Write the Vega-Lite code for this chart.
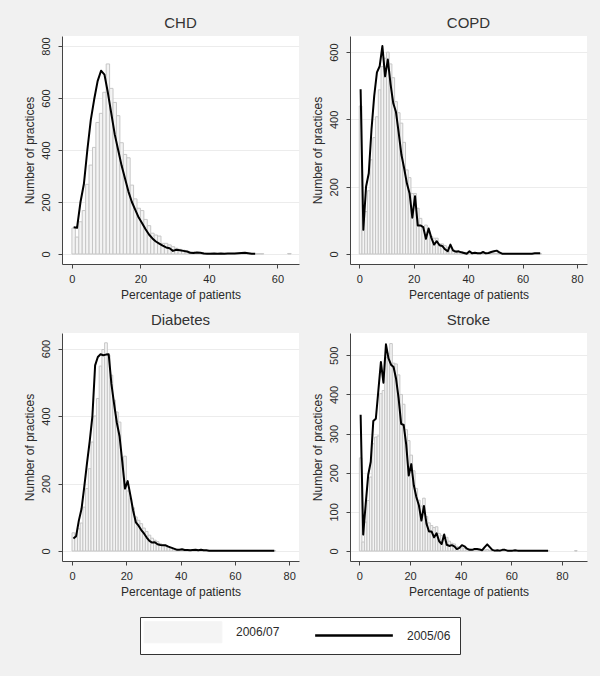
{
  "$schema": "https://vega.github.io/schema/vega-lite/v6.json",
  "background": "#f1f1f1",
  "padding": {"left": 22, "top": 16, "right": 14, "bottom": 21},
  "autosize": {"type": "pad"},
  "config": {
    "font": "Liberation Sans",
    "view": {"fill": "#ffffff", "stroke": null},
    "title": {"font": "Liberation Sans", "fontSize": 15, "fontWeight": 400, "color": "#333333", "baseline": "alphabetic", "offset": 5, "anchor": "middle", "frame": "group"},
    "style": {"group-title": {"font": "Liberation Sans", "fontSize": 15, "fontWeight": 400, "fill": "#333333"}},
    "axis": {"domainColor": "#444444", "tickColor": "#444444", "tickSize": 4, "labelFont": "Liberation Sans", "labelFontSize": 11, "labelColor": "#2a2a2a", "titleFont": "Liberation Sans", "titleFontSize": 12, "titleFontWeight": "normal", "titleColor": "#2a2a2a", "grid": false},
    "axisX": {"labelPadding": 5, "titlePadding": 5, "labelFlush": false},
    "axisY": {"grid": true, "gridColor": "#ececec", "labelAngle": 270, "labelAlign": "center", "labelBaseline": "bottom", "labelPadding": 7, "titlePadding": 4},
    "legend": {"orient": "none", "legendX": 78, "legendY": 581, "direction": "horizontal", "title": null, "strokeColor": "#333333", "fillColor": "#ffffff", "padding": 9, "symbolSize": 441, "symbolOffset": 28, "labelOffset": 47, "columnPadding": 30, "labelFont": "Liberation Sans", "labelFontSize": 12, "labelColor": "#2a2a2a", "symbolStrokeWidth": 1}
  },
  "datasets": {
    "bars": [
      {"d":"CHD","lo":0,"hi":1,"n":100},{"d":"CHD","lo":1,"hi":2,"n":65},{"d":"CHD","lo":2,"hi":3,"n":124},{"d":"CHD","lo":3,"hi":4,"n":167},{"d":"CHD","lo":4,"hi":5,"n":268},{"d":"CHD","lo":5,"hi":6,"n":342},{"d":"CHD","lo":6,"hi":7,"n":410},{"d":"CHD","lo":7,"hi":8,"n":506},{"d":"CHD","lo":8,"hi":9,"n":541},{"d":"CHD","lo":9,"hi":10,"n":622},{"d":"CHD","lo":10,"hi":11,"n":731},{"d":"CHD","lo":11,"hi":12,"n":637},{"d":"CHD","lo":12,"hi":13,"n":583},{"d":"CHD","lo":13,"hi":14,"n":532},{"d":"CHD","lo":14,"hi":15,"n":428},{"d":"CHD","lo":15,"hi":16,"n":383},{"d":"CHD","lo":16,"hi":17,"n":370},{"d":"CHD","lo":17,"hi":18,"n":265},{"d":"CHD","lo":18,"hi":19,"n":212},{"d":"CHD","lo":19,"hi":20,"n":176},{"d":"CHD","lo":20,"hi":21,"n":167},{"d":"CHD","lo":21,"hi":22,"n":133},{"d":"CHD","lo":22,"hi":23,"n":109},{"d":"CHD","lo":23,"hi":24,"n":80},{"d":"CHD","lo":24,"hi":25,"n":73},{"d":"CHD","lo":25,"hi":26,"n":69},{"d":"CHD","lo":26,"hi":27,"n":41},{"d":"CHD","lo":27,"hi":28,"n":41},{"d":"CHD","lo":28,"hi":29,"n":35},{"d":"CHD","lo":29,"hi":30,"n":28},{"d":"CHD","lo":30,"hi":31,"n":22},{"d":"CHD","lo":31,"hi":32,"n":18},{"d":"CHD","lo":32,"hi":33,"n":15},{"d":"CHD","lo":33,"hi":34,"n":13},{"d":"CHD","lo":34,"hi":35,"n":9},{"d":"CHD","lo":35,"hi":36,"n":8},{"d":"CHD","lo":36,"hi":37,"n":6},{"d":"CHD","lo":37,"hi":38,"n":5},{"d":"CHD","lo":38,"hi":39,"n":4},{"d":"CHD","lo":39,"hi":40,"n":3},{"d":"CHD","lo":40,"hi":41,"n":3},{"d":"CHD","lo":41,"hi":42,"n":2},{"d":"CHD","lo":42,"hi":43,"n":2},{"d":"CHD","lo":43,"hi":44,"n":2},{"d":"CHD","lo":44,"hi":45,"n":2},{"d":"CHD","lo":45,"hi":46,"n":1},{"d":"CHD","lo":46,"hi":47,"n":1},{"d":"CHD","lo":47,"hi":48,"n":1},{"d":"CHD","lo":48,"hi":49,"n":1},{"d":"CHD","lo":49,"hi":50,"n":1},{"d":"CHD","lo":50,"hi":51,"n":2},{"d":"CHD","lo":51,"hi":52,"n":1},{"d":"CHD","lo":52,"hi":53,"n":1},{"d":"CHD","lo":53,"hi":54,"n":1},{"d":"CHD","lo":54,"hi":55,"n":1},{"d":"CHD","lo":55,"hi":56,"n":1},{"d":"CHD","lo":63,"hi":64,"n":2},
      {"d":"COPD","lo":0,"hi":1,"n":440},{"d":"COPD","lo":1,"hi":2,"n":71},{"d":"COPD","lo":2,"hi":3,"n":126},{"d":"COPD","lo":3,"hi":4,"n":188},{"d":"COPD","lo":4,"hi":5,"n":280},{"d":"COPD","lo":5,"hi":6,"n":346},{"d":"COPD","lo":6,"hi":7,"n":408},{"d":"COPD","lo":7,"hi":8,"n":488},{"d":"COPD","lo":8,"hi":9,"n":557},{"d":"COPD","lo":9,"hi":10,"n":582},{"d":"COPD","lo":10,"hi":11,"n":600},{"d":"COPD","lo":11,"hi":12,"n":565},{"d":"COPD","lo":12,"hi":13,"n":524},{"d":"COPD","lo":13,"hi":14,"n":453},{"d":"COPD","lo":14,"hi":15,"n":420},{"d":"COPD","lo":15,"hi":16,"n":389},{"d":"COPD","lo":16,"hi":17,"n":332},{"d":"COPD","lo":17,"hi":18,"n":250},{"d":"COPD","lo":18,"hi":19,"n":227},{"d":"COPD","lo":19,"hi":20,"n":180},{"d":"COPD","lo":20,"hi":21,"n":180},{"d":"COPD","lo":21,"hi":22,"n":136},{"d":"COPD","lo":22,"hi":23,"n":106},{"d":"COPD","lo":23,"hi":24,"n":81},{"d":"COPD","lo":24,"hi":25,"n":86},{"d":"COPD","lo":25,"hi":26,"n":66},{"d":"COPD","lo":26,"hi":27,"n":52},{"d":"COPD","lo":27,"hi":28,"n":47},{"d":"COPD","lo":28,"hi":29,"n":47},{"d":"COPD","lo":29,"hi":30,"n":30},{"d":"COPD","lo":30,"hi":31,"n":30},{"d":"COPD","lo":31,"hi":32,"n":25},{"d":"COPD","lo":32,"hi":33,"n":20},{"d":"COPD","lo":33,"hi":34,"n":17},{"d":"COPD","lo":34,"hi":35,"n":13},{"d":"COPD","lo":35,"hi":36,"n":10},{"d":"COPD","lo":36,"hi":37,"n":8},{"d":"COPD","lo":37,"hi":38,"n":7},{"d":"COPD","lo":38,"hi":39,"n":5},{"d":"COPD","lo":39,"hi":40,"n":4},{"d":"COPD","lo":40,"hi":41,"n":4},{"d":"COPD","lo":41,"hi":42,"n":3},{"d":"COPD","lo":42,"hi":43,"n":3},{"d":"COPD","lo":43,"hi":44,"n":2},{"d":"COPD","lo":44,"hi":45,"n":2},{"d":"COPD","lo":45,"hi":46,"n":2},{"d":"COPD","lo":46,"hi":47,"n":2},{"d":"COPD","lo":47,"hi":48,"n":2},{"d":"COPD","lo":48,"hi":49,"n":2},{"d":"COPD","lo":49,"hi":50,"n":2},{"d":"COPD","lo":50,"hi":51,"n":2},{"d":"COPD","lo":51,"hi":52,"n":1},{"d":"COPD","lo":52,"hi":53,"n":1},{"d":"COPD","lo":53,"hi":54,"n":1},{"d":"COPD","lo":54,"hi":55,"n":1},{"d":"COPD","lo":55,"hi":56,"n":1},{"d":"COPD","lo":56,"hi":57,"n":1},{"d":"COPD","lo":57,"hi":58,"n":1},{"d":"COPD","lo":58,"hi":59,"n":1},{"d":"COPD","lo":59,"hi":60,"n":1},{"d":"COPD","lo":60,"hi":61,"n":1},{"d":"COPD","lo":61,"hi":62,"n":1},{"d":"COPD","lo":62,"hi":63,"n":1},{"d":"COPD","lo":63,"hi":64,"n":1},{"d":"COPD","lo":64,"hi":65,"n":1},{"d":"COPD","lo":65,"hi":66,"n":1},{"d":"COPD","lo":66,"hi":67,"n":1},
      {"d":"Diabetes","lo":0,"hi":1,"n":54},{"d":"Diabetes","lo":1,"hi":2,"n":42},{"d":"Diabetes","lo":2,"hi":3,"n":66},{"d":"Diabetes","lo":3,"hi":4,"n":83},{"d":"Diabetes","lo":4,"hi":5,"n":130},{"d":"Diabetes","lo":5,"hi":6,"n":185},{"d":"Diabetes","lo":6,"hi":7,"n":244},{"d":"Diabetes","lo":7,"hi":8,"n":323},{"d":"Diabetes","lo":8,"hi":9,"n":400},{"d":"Diabetes","lo":9,"hi":10,"n":452},{"d":"Diabetes","lo":10,"hi":11,"n":548},{"d":"Diabetes","lo":11,"hi":12,"n":597},{"d":"Diabetes","lo":12,"hi":13,"n":617},{"d":"Diabetes","lo":13,"hi":14,"n":580},{"d":"Diabetes","lo":14,"hi":15,"n":521},{"d":"Diabetes","lo":15,"hi":16,"n":447},{"d":"Diabetes","lo":16,"hi":17,"n":412},{"d":"Diabetes","lo":17,"hi":18,"n":382},{"d":"Diabetes","lo":18,"hi":19,"n":277},{"d":"Diabetes","lo":19,"hi":20,"n":281},{"d":"Diabetes","lo":20,"hi":21,"n":178},{"d":"Diabetes","lo":21,"hi":22,"n":155},{"d":"Diabetes","lo":22,"hi":23,"n":128},{"d":"Diabetes","lo":23,"hi":24,"n":101},{"d":"Diabetes","lo":24,"hi":25,"n":91},{"d":"Diabetes","lo":25,"hi":26,"n":81},{"d":"Diabetes","lo":26,"hi":27,"n":68},{"d":"Diabetes","lo":27,"hi":28,"n":58},{"d":"Diabetes","lo":28,"hi":29,"n":47},{"d":"Diabetes","lo":29,"hi":30,"n":38},{"d":"Diabetes","lo":30,"hi":31,"n":32},{"d":"Diabetes","lo":31,"hi":32,"n":28},{"d":"Diabetes","lo":32,"hi":33,"n":22},{"d":"Diabetes","lo":33,"hi":34,"n":18},{"d":"Diabetes","lo":34,"hi":35,"n":14},{"d":"Diabetes","lo":35,"hi":36,"n":12},{"d":"Diabetes","lo":36,"hi":37,"n":10},{"d":"Diabetes","lo":37,"hi":38,"n":7},{"d":"Diabetes","lo":38,"hi":39,"n":5},{"d":"Diabetes","lo":39,"hi":40,"n":4},{"d":"Diabetes","lo":40,"hi":41,"n":3},{"d":"Diabetes","lo":41,"hi":42,"n":2},{"d":"Diabetes","lo":42,"hi":43,"n":2},{"d":"Diabetes","lo":43,"hi":44,"n":2},{"d":"Diabetes","lo":44,"hi":45,"n":2},{"d":"Diabetes","lo":45,"hi":46,"n":2},{"d":"Diabetes","lo":46,"hi":47,"n":2},{"d":"Diabetes","lo":47,"hi":48,"n":2},{"d":"Diabetes","lo":48,"hi":49,"n":2},{"d":"Diabetes","lo":49,"hi":50,"n":2},{"d":"Diabetes","lo":50,"hi":51,"n":1},{"d":"Diabetes","lo":51,"hi":52,"n":1},{"d":"Diabetes","lo":52,"hi":53,"n":1},{"d":"Diabetes","lo":53,"hi":54,"n":1},{"d":"Diabetes","lo":54,"hi":55,"n":1},{"d":"Diabetes","lo":55,"hi":56,"n":1},{"d":"Diabetes","lo":56,"hi":57,"n":1},{"d":"Diabetes","lo":57,"hi":58,"n":1},{"d":"Diabetes","lo":58,"hi":59,"n":1},{"d":"Diabetes","lo":59,"hi":60,"n":1},{"d":"Diabetes","lo":60,"hi":61,"n":1},{"d":"Diabetes","lo":61,"hi":62,"n":1},{"d":"Diabetes","lo":62,"hi":63,"n":1},{"d":"Diabetes","lo":63,"hi":64,"n":1},{"d":"Diabetes","lo":64,"hi":65,"n":1},{"d":"Diabetes","lo":65,"hi":66,"n":1},{"d":"Diabetes","lo":66,"hi":67,"n":1},{"d":"Diabetes","lo":67,"hi":68,"n":1},{"d":"Diabetes","lo":68,"hi":69,"n":1},{"d":"Diabetes","lo":69,"hi":70,"n":1},{"d":"Diabetes","lo":70,"hi":71,"n":1},{"d":"Diabetes","lo":71,"hi":72,"n":1},{"d":"Diabetes","lo":72,"hi":73,"n":1},{"d":"Diabetes","lo":73,"hi":74,"n":1},{"d":"Diabetes","lo":74,"hi":75,"n":1},
      {"d":"Stroke","lo":0,"hi":1,"n":238},{"d":"Stroke","lo":1,"hi":2,"n":23},{"d":"Stroke","lo":2,"hi":3,"n":74},{"d":"Stroke","lo":3,"hi":4,"n":129},{"d":"Stroke","lo":4,"hi":5,"n":189},{"d":"Stroke","lo":5,"hi":6,"n":274},{"d":"Stroke","lo":6,"hi":7,"n":291},{"d":"Stroke","lo":7,"hi":8,"n":294},{"d":"Stroke","lo":8,"hi":9,"n":402},{"d":"Stroke","lo":9,"hi":10,"n":410},{"d":"Stroke","lo":10,"hi":11,"n":495},{"d":"Stroke","lo":11,"hi":12,"n":505},{"d":"Stroke","lo":12,"hi":13,"n":530},{"d":"Stroke","lo":13,"hi":14,"n":480},{"d":"Stroke","lo":14,"hi":15,"n":478},{"d":"Stroke","lo":15,"hi":16,"n":450},{"d":"Stroke","lo":16,"hi":17,"n":400},{"d":"Stroke","lo":17,"hi":18,"n":375},{"d":"Stroke","lo":18,"hi":19,"n":310},{"d":"Stroke","lo":19,"hi":20,"n":282},{"d":"Stroke","lo":20,"hi":21,"n":245},{"d":"Stroke","lo":21,"hi":22,"n":205},{"d":"Stroke","lo":22,"hi":23,"n":160},{"d":"Stroke","lo":23,"hi":24,"n":130},{"d":"Stroke","lo":24,"hi":25,"n":115},{"d":"Stroke","lo":25,"hi":26,"n":135},{"d":"Stroke","lo":26,"hi":27,"n":88},{"d":"Stroke","lo":27,"hi":28,"n":72},{"d":"Stroke","lo":28,"hi":29,"n":65},{"d":"Stroke","lo":29,"hi":30,"n":60},{"d":"Stroke","lo":30,"hi":31,"n":62},{"d":"Stroke","lo":31,"hi":32,"n":45},{"d":"Stroke","lo":32,"hi":33,"n":40},{"d":"Stroke","lo":33,"hi":34,"n":32},{"d":"Stroke","lo":34,"hi":35,"n":35},{"d":"Stroke","lo":35,"hi":36,"n":25},{"d":"Stroke","lo":36,"hi":37,"n":20},{"d":"Stroke","lo":37,"hi":38,"n":18},{"d":"Stroke","lo":38,"hi":39,"n":12},{"d":"Stroke","lo":39,"hi":40,"n":10},{"d":"Stroke","lo":40,"hi":41,"n":8},{"d":"Stroke","lo":41,"hi":42,"n":7},{"d":"Stroke","lo":42,"hi":43,"n":6},{"d":"Stroke","lo":43,"hi":44,"n":5},{"d":"Stroke","lo":44,"hi":45,"n":4},{"d":"Stroke","lo":45,"hi":46,"n":4},{"d":"Stroke","lo":46,"hi":47,"n":3},{"d":"Stroke","lo":47,"hi":48,"n":3},{"d":"Stroke","lo":48,"hi":49,"n":2},{"d":"Stroke","lo":49,"hi":50,"n":3},{"d":"Stroke","lo":50,"hi":51,"n":4},{"d":"Stroke","lo":51,"hi":52,"n":2},{"d":"Stroke","lo":52,"hi":53,"n":1},{"d":"Stroke","lo":53,"hi":54,"n":1},{"d":"Stroke","lo":54,"hi":55,"n":1},{"d":"Stroke","lo":55,"hi":56,"n":1},{"d":"Stroke","lo":56,"hi":57,"n":1},{"d":"Stroke","lo":57,"hi":58,"n":1},{"d":"Stroke","lo":58,"hi":59,"n":1},{"d":"Stroke","lo":59,"hi":60,"n":1},{"d":"Stroke","lo":60,"hi":61,"n":1},{"d":"Stroke","lo":61,"hi":62,"n":1},{"d":"Stroke","lo":62,"hi":63,"n":1},{"d":"Stroke","lo":63,"hi":64,"n":1},{"d":"Stroke","lo":64,"hi":65,"n":1},{"d":"Stroke","lo":65,"hi":66,"n":1},{"d":"Stroke","lo":66,"hi":67,"n":1},{"d":"Stroke","lo":67,"hi":68,"n":1},{"d":"Stroke","lo":68,"hi":69,"n":1},{"d":"Stroke","lo":69,"hi":70,"n":1},{"d":"Stroke","lo":70,"hi":71,"n":1},{"d":"Stroke","lo":71,"hi":72,"n":1},{"d":"Stroke","lo":72,"hi":73,"n":1},{"d":"Stroke","lo":73,"hi":74,"n":1},{"d":"Stroke","lo":74,"hi":75,"n":1},{"d":"Stroke","lo":85,"hi":86,"n":1}
    ],
    "line": [
      {"d":"CHD","p":0.5,"n":103},{"d":"CHD","p":1.5,"n":101},{"d":"CHD","p":2.5,"n":200},{"d":"CHD","p":3.5,"n":270},{"d":"CHD","p":4.5,"n":400},{"d":"CHD","p":5.5,"n":515},{"d":"CHD","p":6.5,"n":595},{"d":"CHD","p":7.5,"n":665},{"d":"CHD","p":8.5,"n":705},{"d":"CHD","p":9.5,"n":690},{"d":"CHD","p":10.5,"n":620},{"d":"CHD","p":11.5,"n":540},{"d":"CHD","p":12.5,"n":460},{"d":"CHD","p":13.5,"n":400},{"d":"CHD","p":14.5,"n":340},{"d":"CHD","p":15.5,"n":290},{"d":"CHD","p":16.5,"n":240},{"d":"CHD","p":17.5,"n":200},{"d":"CHD","p":18.5,"n":170},{"d":"CHD","p":19.5,"n":140},{"d":"CHD","p":20.5,"n":118},{"d":"CHD","p":21.5,"n":95},{"d":"CHD","p":22.5,"n":75},{"d":"CHD","p":23.5,"n":60},{"d":"CHD","p":24.5,"n":48},{"d":"CHD","p":25.5,"n":40},{"d":"CHD","p":26.5,"n":32},{"d":"CHD","p":27.5,"n":25},{"d":"CHD","p":28.5,"n":22},{"d":"CHD","p":29.5,"n":12},{"d":"CHD","p":30.5,"n":16},{"d":"CHD","p":31.5,"n":14},{"d":"CHD","p":32.5,"n":12},{"d":"CHD","p":33.5,"n":10},{"d":"CHD","p":34.5,"n":5},{"d":"CHD","p":35.5,"n":4},{"d":"CHD","p":36.5,"n":6},{"d":"CHD","p":37.5,"n":5},{"d":"CHD","p":38.5,"n":2},{"d":"CHD","p":39.5,"n":1},{"d":"CHD","p":40.5,"n":1},{"d":"CHD","p":41.5,"n":2},{"d":"CHD","p":42.5,"n":1},{"d":"CHD","p":43.5,"n":2},{"d":"CHD","p":44.5,"n":1},{"d":"CHD","p":45.5,"n":2},{"d":"CHD","p":46.5,"n":2},{"d":"CHD","p":47.5,"n":2},{"d":"CHD","p":48.5,"n":3},{"d":"CHD","p":49.5,"n":4},{"d":"CHD","p":50.5,"n":5},{"d":"CHD","p":51.5,"n":3},{"d":"CHD","p":52.5,"n":1},{"d":"CHD","p":53.5,"n":1},
      {"d":"COPD","p":0.5,"n":490},{"d":"COPD","p":1.5,"n":72},{"d":"COPD","p":2.5,"n":200},{"d":"COPD","p":3.5,"n":240},{"d":"COPD","p":4.5,"n":370},{"d":"COPD","p":5.5,"n":470},{"d":"COPD","p":6.5,"n":540},{"d":"COPD","p":7.5,"n":558},{"d":"COPD","p":8.5,"n":618},{"d":"COPD","p":9.5,"n":528},{"d":"COPD","p":10.5,"n":578},{"d":"COPD","p":11.5,"n":505},{"d":"COPD","p":12.5,"n":448},{"d":"COPD","p":13.5,"n":422},{"d":"COPD","p":14.5,"n":360},{"d":"COPD","p":15.5,"n":295},{"d":"COPD","p":16.5,"n":255},{"d":"COPD","p":17.5,"n":210},{"d":"COPD","p":18.5,"n":180},{"d":"COPD","p":19.5,"n":108},{"d":"COPD","p":20.5,"n":172},{"d":"COPD","p":21.5,"n":85},{"d":"COPD","p":22.5,"n":85},{"d":"COPD","p":23.5,"n":80},{"d":"COPD","p":24.5,"n":45},{"d":"COPD","p":25.5,"n":76},{"d":"COPD","p":26.5,"n":48},{"d":"COPD","p":27.5,"n":28},{"d":"COPD","p":28.5,"n":38},{"d":"COPD","p":29.5,"n":26},{"d":"COPD","p":30.5,"n":24},{"d":"COPD","p":31.5,"n":14},{"d":"COPD","p":32.5,"n":8},{"d":"COPD","p":33.5,"n":28},{"d":"COPD","p":34.5,"n":10},{"d":"COPD","p":35.5,"n":7},{"d":"COPD","p":36.5,"n":8},{"d":"COPD","p":37.5,"n":5},{"d":"COPD","p":38.5,"n":3},{"d":"COPD","p":39.5,"n":1},{"d":"COPD","p":40.5,"n":8},{"d":"COPD","p":41.5,"n":2},{"d":"COPD","p":42.5,"n":4},{"d":"COPD","p":43.5,"n":2},{"d":"COPD","p":44.5,"n":2},{"d":"COPD","p":45.5,"n":6},{"d":"COPD","p":46.5,"n":2},{"d":"COPD","p":47.5,"n":3},{"d":"COPD","p":48.5,"n":6},{"d":"COPD","p":49.5,"n":8},{"d":"COPD","p":50.5,"n":10},{"d":"COPD","p":51.5,"n":5},{"d":"COPD","p":52.5,"n":1},{"d":"COPD","p":53.5,"n":1},{"d":"COPD","p":54.5,"n":1},{"d":"COPD","p":55.5,"n":1},{"d":"COPD","p":56.5,"n":1},{"d":"COPD","p":57.5,"n":1},{"d":"COPD","p":58.5,"n":1},{"d":"COPD","p":59.5,"n":1},{"d":"COPD","p":60.5,"n":1},{"d":"COPD","p":61.5,"n":1},{"d":"COPD","p":62.5,"n":1},{"d":"COPD","p":63.5,"n":1},{"d":"COPD","p":64.5,"n":2},{"d":"COPD","p":65.5,"n":2},{"d":"COPD","p":66.5,"n":2},
      {"d":"Diabetes","p":0.5,"n":37},{"d":"Diabetes","p":1.5,"n":44},{"d":"Diabetes","p":2.5,"n":90},{"d":"Diabetes","p":3.5,"n":125},{"d":"Diabetes","p":4.5,"n":190},{"d":"Diabetes","p":5.5,"n":260},{"d":"Diabetes","p":6.5,"n":325},{"d":"Diabetes","p":7.5,"n":400},{"d":"Diabetes","p":8.5,"n":550},{"d":"Diabetes","p":9.5,"n":575},{"d":"Diabetes","p":10.5,"n":583},{"d":"Diabetes","p":11.5,"n":580},{"d":"Diabetes","p":12.5,"n":582},{"d":"Diabetes","p":13.5,"n":583},{"d":"Diabetes","p":14.5,"n":495},{"d":"Diabetes","p":15.5,"n":435},{"d":"Diabetes","p":16.5,"n":380},{"d":"Diabetes","p":17.5,"n":340},{"d":"Diabetes","p":18.5,"n":265},{"d":"Diabetes","p":19.5,"n":185},{"d":"Diabetes","p":20.5,"n":207},{"d":"Diabetes","p":21.5,"n":165},{"d":"Diabetes","p":22.5,"n":120},{"d":"Diabetes","p":23.5,"n":85},{"d":"Diabetes","p":24.5,"n":75},{"d":"Diabetes","p":25.5,"n":62},{"d":"Diabetes","p":26.5,"n":52},{"d":"Diabetes","p":27.5,"n":40},{"d":"Diabetes","p":28.5,"n":30},{"d":"Diabetes","p":29.5,"n":25},{"d":"Diabetes","p":30.5,"n":26},{"d":"Diabetes","p":31.5,"n":20},{"d":"Diabetes","p":32.5,"n":18},{"d":"Diabetes","p":33.5,"n":17},{"d":"Diabetes","p":34.5,"n":17},{"d":"Diabetes","p":35.5,"n":13},{"d":"Diabetes","p":36.5,"n":10},{"d":"Diabetes","p":37.5,"n":7},{"d":"Diabetes","p":38.5,"n":4},{"d":"Diabetes","p":39.5,"n":4},{"d":"Diabetes","p":40.5,"n":5},{"d":"Diabetes","p":41.5,"n":3},{"d":"Diabetes","p":42.5,"n":3},{"d":"Diabetes","p":43.5,"n":2},{"d":"Diabetes","p":44.5,"n":3},{"d":"Diabetes","p":45.5,"n":4},{"d":"Diabetes","p":46.5,"n":2},{"d":"Diabetes","p":47.5,"n":4},{"d":"Diabetes","p":48.5,"n":2},{"d":"Diabetes","p":49.5,"n":2},{"d":"Diabetes","p":50.5,"n":1},{"d":"Diabetes","p":52.5,"n":1},{"d":"Diabetes","p":54.5,"n":1},{"d":"Diabetes","p":56.5,"n":1},{"d":"Diabetes","p":58.5,"n":1},{"d":"Diabetes","p":60.5,"n":1},{"d":"Diabetes","p":62.5,"n":1},{"d":"Diabetes","p":64.5,"n":1},{"d":"Diabetes","p":66.5,"n":1},{"d":"Diabetes","p":68.5,"n":1},{"d":"Diabetes","p":70.5,"n":1},{"d":"Diabetes","p":72.5,"n":1},{"d":"Diabetes","p":74.5,"n":1},
      {"d":"Stroke","p":0.5,"n":348},{"d":"Stroke","p":1.5,"n":42},{"d":"Stroke","p":2.5,"n":120},{"d":"Stroke","p":3.5,"n":195},{"d":"Stroke","p":4.5,"n":228},{"d":"Stroke","p":5.5,"n":332},{"d":"Stroke","p":6.5,"n":338},{"d":"Stroke","p":7.5,"n":410},{"d":"Stroke","p":8.5,"n":483},{"d":"Stroke","p":9.5,"n":430},{"d":"Stroke","p":10.5,"n":528},{"d":"Stroke","p":11.5,"n":492},{"d":"Stroke","p":12.5,"n":476},{"d":"Stroke","p":13.5,"n":470},{"d":"Stroke","p":14.5,"n":440},{"d":"Stroke","p":15.5,"n":390},{"d":"Stroke","p":16.5,"n":325},{"d":"Stroke","p":17.5,"n":322},{"d":"Stroke","p":18.5,"n":272},{"d":"Stroke","p":19.5,"n":193},{"d":"Stroke","p":20.5,"n":222},{"d":"Stroke","p":21.5,"n":168},{"d":"Stroke","p":22.5,"n":138},{"d":"Stroke","p":23.5,"n":117},{"d":"Stroke","p":24.5,"n":78},{"d":"Stroke","p":25.5,"n":115},{"d":"Stroke","p":26.5,"n":70},{"d":"Stroke","p":27.5,"n":50},{"d":"Stroke","p":28.5,"n":50},{"d":"Stroke","p":29.5,"n":35},{"d":"Stroke","p":30.5,"n":45},{"d":"Stroke","p":31.5,"n":25},{"d":"Stroke","p":32.5,"n":18},{"d":"Stroke","p":33.5,"n":42},{"d":"Stroke","p":34.5,"n":16},{"d":"Stroke","p":35.5,"n":13},{"d":"Stroke","p":36.5,"n":15},{"d":"Stroke","p":37.5,"n":12},{"d":"Stroke","p":38.5,"n":5},{"d":"Stroke","p":39.5,"n":8},{"d":"Stroke","p":40.5,"n":15},{"d":"Stroke","p":41.5,"n":12},{"d":"Stroke","p":42.5,"n":6},{"d":"Stroke","p":43.5,"n":3},{"d":"Stroke","p":44.5,"n":3},{"d":"Stroke","p":45.5,"n":5},{"d":"Stroke","p":46.5,"n":5},{"d":"Stroke","p":47.5,"n":4},{"d":"Stroke","p":48.5,"n":2},{"d":"Stroke","p":49.5,"n":10},{"d":"Stroke","p":50.5,"n":17},{"d":"Stroke","p":51.5,"n":10},{"d":"Stroke","p":52.5,"n":3},{"d":"Stroke","p":53.5,"n":1},{"d":"Stroke","p":54.5,"n":2},{"d":"Stroke","p":55.5,"n":1},{"d":"Stroke","p":56.5,"n":3},{"d":"Stroke","p":57.5,"n":3},{"d":"Stroke","p":58.5,"n":1},{"d":"Stroke","p":59.5,"n":1},{"d":"Stroke","p":60.5,"n":1},{"d":"Stroke","p":61.5,"n":2},{"d":"Stroke","p":62.5,"n":1},{"d":"Stroke","p":64.5,"n":1},{"d":"Stroke","p":66.5,"n":1},{"d":"Stroke","p":68.5,"n":1},{"d":"Stroke","p":70.5,"n":1},{"d":"Stroke","p":72.5,"n":1},{"d":"Stroke","p":74.5,"n":1}
    ]
  },
  "columns": 2,
  "spacing": {"row": 69, "column": 51},
  "bounds": "flush",
  "resolve": {"scale": {"color": "shared"}, "legend": {"color": "shared"}},
  "concat": [
    {
      "title": {"text": "CHD", "fontWeight": 400, "fontSize": 15, "font": "Liberation Sans", "color": "#333333"},
      "width": 237, "height": 228,
      "layer": [
        {"data": {"name": "bars"}, "transform": [{"filter": "datum.d === 'CHD'"}],
         "mark": {"type": "rect", "stroke": "#c6c6c6", "strokeWidth": 1},
         "encoding": {
           "x": {"field": "lo", "type": "quantitative", "scale": {"domain": [-2.9, 66.3], "nice": false, "zero": false}, "axis": {"values": [0, 20, 40, 60]}, "title": "Percentage of patients"},
           "x2": {"field": "hi"},
           "y": {"field": "n", "type": "quantitative", "scale": {"domain": [-38.5, 838.5], "nice": false, "zero": false}, "axis": {"values": [0, 200, 400, 600, 800]}, "title": "Number of practices"},
           "y2": {"datum": 0},
           "color": {"datum": "2006/07", "type": "nominal", "scale": {"domain": ["2006/07", "2005/06"], "range": ["#f4f4f4", "#000000"]},
             "legend": {"encode": {"symbols": {"update": {
               "shape": {"signal": "datum.value === '2005/06' ? 'M-3.7,0H3.7' : 'M-3.7,-1H3.7V1H-3.7Z'"},
               "fill": {"signal": "datum.value === '2005/06' ? 'transparent' : '#f2f2f2'"},
               "stroke": {"signal": "datum.value === '2005/06' ? '#000000' : '#d0d0d0'"},
               "strokeWidth": {"signal": "datum.value === '2005/06' ? 2.5 : 1"}}}}}}
         }},
        {"data": {"name": "line"}, "transform": [{"filter": "datum.d === 'CHD'"}],
         "mark": {"type": "line", "strokeWidth": 2, "strokeJoin": "round"},
         "encoding": {
           "x": {"field": "p", "type": "quantitative"},
           "y": {"field": "n", "type": "quantitative"},
           "color": {"datum": "2005/06", "type": "nominal",
             "legend": {"encode": {"symbols": {"update": {
               "shape": {"signal": "datum.value === '2005/06' ? 'M-3.7,0H3.7' : 'M-3.7,-1H3.7V1H-3.7Z'"},
               "fill": {"signal": "datum.value === '2005/06' ? 'transparent' : '#f2f2f2'"},
               "stroke": {"signal": "datum.value === '2005/06' ? '#000000' : '#d0d0d0'"},
               "strokeWidth": {"signal": "datum.value === '2005/06' ? 2.5 : 1"}}}}}}
         }}
      ]
    },
    {
      "title": {"text": "COPD", "fontWeight": 400, "fontSize": 15, "font": "Liberation Sans", "color": "#333333"},
      "width": 237, "height": 228,
      "layer": [
        {"data": {"name": "bars"}, "transform": [{"filter": "datum.d === 'COPD'"}],
         "mark": {"type": "rect", "stroke": "#c6c6c6", "strokeWidth": 1},
         "encoding": {
           "x": {"field": "lo", "type": "quantitative", "scale": {"domain": [-3.4, 83.7], "nice": false, "zero": false}, "axis": {"values": [0, 20, 40, 60, 80]}, "title": "Percentage of patients"},
           "x2": {"field": "hi"},
           "y": {"field": "n", "type": "quantitative", "scale": {"domain": [-29.7, 648], "nice": false, "zero": false}, "axis": {"values": [0, 200, 400, 600]}, "title": "Number of practices"},
           "y2": {"datum": 0},
           "color": {"datum": "2006/07", "type": "nominal"}
         }},
        {"data": {"name": "line"}, "transform": [{"filter": "datum.d === 'COPD'"}],
         "mark": {"type": "line", "strokeWidth": 2, "strokeJoin": "round"},
         "encoding": {
           "x": {"field": "p", "type": "quantitative"},
           "y": {"field": "n", "type": "quantitative"},
           "color": {"datum": "2005/06", "type": "nominal"}
         }}
      ]
    },
    {
      "title": {"text": "Diabetes", "fontWeight": 400, "fontSize": 15, "font": "Liberation Sans", "color": "#333333"},
      "width": 237, "height": 228,
      "layer": [
        {"data": {"name": "bars"}, "transform": [{"filter": "datum.d === 'Diabetes'"}],
         "mark": {"type": "rect", "stroke": "#c6c6c6", "strokeWidth": 1},
         "encoding": {
           "x": {"field": "lo", "type": "quantitative", "scale": {"domain": [-3.7, 83.6], "nice": false, "zero": false}, "axis": {"values": [0, 20, 40, 60, 80]}, "title": "Percentage of patients"},
           "x2": {"field": "hi"},
           "y": {"field": "n", "type": "quantitative", "scale": {"domain": [-29.6, 646], "nice": false, "zero": false}, "axis": {"values": [0, 200, 400, 600]}, "title": "Number of practices"},
           "y2": {"datum": 0},
           "color": {"datum": "2006/07", "type": "nominal"}
         }},
        {"data": {"name": "line"}, "transform": [{"filter": "datum.d === 'Diabetes'"}],
         "mark": {"type": "line", "strokeWidth": 2, "strokeJoin": "round"},
         "encoding": {
           "x": {"field": "p", "type": "quantitative"},
           "y": {"field": "n", "type": "quantitative"},
           "color": {"datum": "2005/06", "type": "nominal"}
         }}
      ]
    },
    {
      "title": {"text": "Stroke", "fontWeight": 400, "fontSize": 15, "font": "Liberation Sans", "color": "#333333"},
      "width": 237, "height": 228,
      "layer": [
        {"data": {"name": "bars"}, "transform": [{"filter": "datum.d === 'Stroke'"}],
         "mark": {"type": "rect", "stroke": "#c6c6c6", "strokeWidth": 1},
         "encoding": {
           "x": {"field": "lo", "type": "quantitative", "scale": {"domain": [-3.7, 89.9], "nice": false, "zero": false}, "axis": {"values": [0, 20, 40, 60, 80]}, "title": "Percentage of patients"},
           "x2": {"field": "hi"},
           "y": {"field": "n", "type": "quantitative", "scale": {"domain": [-25.5, 557], "nice": false, "zero": false}, "axis": {"values": [0, 100, 200, 300, 400, 500]}, "title": "Number of practices"},
           "y2": {"datum": 0},
           "color": {"datum": "2006/07", "type": "nominal"}
         }},
        {"data": {"name": "line"}, "transform": [{"filter": "datum.d === 'Stroke'"}],
         "mark": {"type": "line", "strokeWidth": 2, "strokeJoin": "round"},
         "encoding": {
           "x": {"field": "p", "type": "quantitative"},
           "y": {"field": "n", "type": "quantitative"},
           "color": {"datum": "2005/06", "type": "nominal"}
         }}
      ]
    }
  ]
}
